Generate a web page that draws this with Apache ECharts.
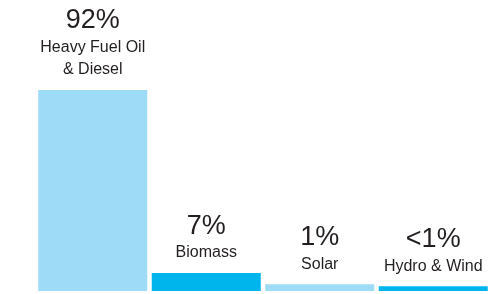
<!DOCTYPE html>
<html>
<head>
<meta charset="utf-8">
<script src="https://cdn.jsdelivr.net/npm/echarts@6/dist/echarts.min.js"></script>
<style>
  html, body { margin: 0; padding: 0; background: #fff; }
  #chart { width: 504px; height: 294px; }
</style>
</head>
<body>
<div id="chart"></div>
<script>
// sources of energy, share labels as printed and bar heights as drawn
var sources = ['Heavy Fuel Oil\n& Diesel', 'Biomass', 'Solar', 'Hydro & Wind'];
var shareLabels = ['92%', '7%', '1%', '<1%'];
var barHeights = [92, 8.2, 3.1, 2.2];
var barColors = ['#9ddbf7', '#00b5ec', '#9ddbf7', '#00b5ec'];

var chart = echarts.init(document.getElementById('chart'));

var data = [];
for (var i = 0; i < barHeights.length; i++) {
    data.push({
        value: barHeights[i],
        itemStyle: { color: barColors[i] }
    });
}

var option = {
    animation: false,
    backgroundColor: '#ffffff',
    grid: { left: 36, right: 14, top: 90, bottom: 3 },
    xAxis: {
        type: 'category',
        data: sources,
        axisLine: { show: false },
        axisTick: { show: false },
        axisLabel: { show: false }
    },
    yAxis: {
        type: 'value',
        min: 0,
        max: 92,
        show: false,
        splitLine: { show: false }
    },
    series: [{
        type: 'bar',
        data: data,
        barWidth: 109,
        label: {
            show: true,
            position: 'top',
            distance: 9,
            fontFamily: 'Liberation Sans',
            formatter: function (p) {
                var lines = sources[p.dataIndex].split('\n');
                var s = '{p|' + shareLabels[p.dataIndex] + '}';
                for (var k = 0; k < lines.length; k++) {
                    s += '\n{n|' + lines[k] + '}';
                }
                return s;
            },
            rich: {
                p: { fontSize: 27, lineHeight: 32, color: '#231f20', fontFamily: 'Liberation Sans', align: 'center' },
                n: { fontSize: 16, lineHeight: 22, color: '#231f20', fontFamily: 'Liberation Sans', align: 'center' }
            }
        }
    }]
};
chart.setOption(option);
</script>
</body>
</html>
